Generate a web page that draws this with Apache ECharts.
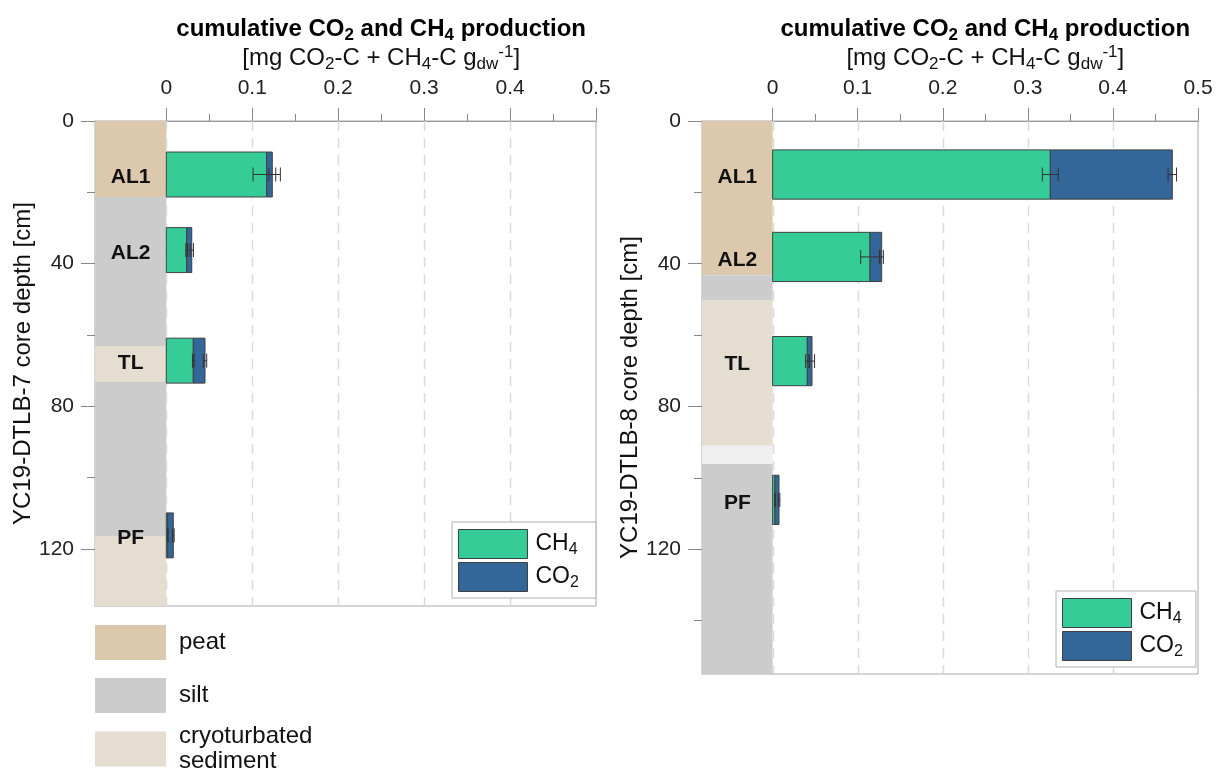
<!DOCTYPE html>
<html><head><meta charset="utf-8">
<script src="https://cdn.jsdelivr.net/npm/echarts@6/dist/echarts.min.js"></script>
<style>html,body{margin:0;padding:0;background:#fff}#c{width:1220px;height:769px}</style>
</head><body><div id="c"></div>
<script>
// ---------------- data ----------------
const LAYERS = ['AL1', 'AL2', 'TL', 'PF'];
// core YC19-DTLB-7 (left)
const C7_DEPTH   = [15.0, 36.2, 67.2, 116.2];
const C7_CH4     = [0.1168, 0.0237, 0.0314, 0.0016];
const C7_CO2     = [0.0065, 0.0059, 0.0136, 0.0065];
const C7_CH4_ERR = [0.0159, 0.0010, 0.0010, 0.0005];
const C7_TOT_ERR = [0.0040, 0.0020, 0.0020, 0.0010];
const C7_LITH_TOP    = [0, 21.3, 63.1, 73.2, 116.4];
const C7_LITH_BOTTOM = [21.3, 63.1, 73.2, 116.4, 136];
const C7_LITH_TYPE   = ['peat', 'silt', 'cryoturbated sediment', 'silt', 'cryoturbated sediment'];
// core YC19-DTLB-8 (right)
const C8_DEPTH   = [15.0, 38.1, 67.3, 106.2];
const C8_CH4     = [0.3264, 0.1145, 0.0408, 0.0028];
const C8_CO2     = [0.1434, 0.0137, 0.0055, 0.0047];
const C8_CH4_ERR = [0.0094, 0.0110, 0.0020, 0.0005];
const C8_TOT_ERR = [0.0050, 0.0020, 0.0030, 0.0010];
const C8_LITH_TOP    = [0, 43.2, 50.2, 91.0, 96.1];
const C8_LITH_BOTTOM = [43.2, 50.2, 91.0, 96.1, 155];
const C8_LITH_TYPE   = ['peat', 'silt', 'cryoturbated sediment', 'no sample', 'silt'];

const X_TICKS = [0, 0.1, 0.2, 0.3, 0.4, 0.5];
const X_MINOR_TICKS = [0.05, 0.15, 0.25, 0.35, 0.45];
const X_GRID = [0, 0.1, 0.2, 0.3, 0.4];
const Y_TICKS = [0, 40, 80, 120];
const Y_MINOR_TICKS = [20, 60, 100, 140];
const X_MIN = -0.083, X_MAX = 0.5;
const C7_DEPTH_MAX = 136, C8_DEPTH_MAX = 155;
const LITH_NAMES = ['peat', 'silt', 'cryoturbated sediment', 'no sample'];

// ---------------- styles ----------------
const FONT = "'Liberation Sans', Arial, Helvetica, sans-serif";
const LITH_COLORS = { 'peat': '#dcc8ac', 'silt': '#cccccc', 'cryoturbated sediment': '#e5ddd0', 'no sample': '#f0f0f0' };
const CH4_COLOR = '#36cc98';
const CO2_COLOR = '#336699';
const EDGE = '#404040';

const chart = echarts.init(document.getElementById('c'), null, { renderer: 'canvas' });

function lithSeries(name, gi, tops, bottoms, types) {
  const data = [];
  for (let i = 0; i < tops.length; i++) if (types[i] === name) data.push([tops[i], bottoms[i]]);
  return {
    type: 'custom', name: name, xAxisIndex: gi * 2, yAxisIndex: gi * 2, z: 1, silent: true,
    itemStyle: { color: LITH_COLORS[name] },
    encode: { x: -1, y: [0, 1] },
    data: data,
    renderItem: function (params, api) {
      const p0 = api.coord([X_MIN, api.value(0)]);
      const p1 = api.coord([0, api.value(1)]);
      return { type: 'rect', shape: { x: p0[0], y: p0[1], width: p1[0] - p0[0], height: p1[1] - p0[1] },
        style: { fill: LITH_COLORS[name] } };
    }
  };
}

function gridLineSeries(gi) {
  return {
    type: 'custom', name: 'gridlines', xAxisIndex: gi * 2, yAxisIndex: gi * 2, z: 2, silent: true,
    encode: { x: 0, y: -1 },
    data: X_GRID.map(v => [v]),
    renderItem: function (params, api) {
      const x = Math.round(api.coord([api.value(0), 0])[0]) + 0.5;
      const cs = params.coordSys;
      return { type: 'line', shape: { x1: x, y1: cs.y, x2: x, y2: cs.y + cs.height },
        style: { stroke: '#dadada', lineWidth: 1.5, lineDash: [10, 7] } };
    }
  };
}

function barSeries(name, color, gi, depth, start, end, h) {
  return {
    type: 'custom', name: name, xAxisIndex: gi * 2, yAxisIndex: gi * 2, z: 3, silent: true,
    itemStyle: { color: color, borderColor: EDGE, borderWidth: 1 },
    encode: { x: [0, 1], y: 2 },
    data: depth.map((d, i) => [start[i], end[i], d]),
    renderItem: function (params, api) {
      const p0 = api.coord([api.value(0), api.value(2) - h / 2]);
      const p1 = api.coord([api.value(1), api.value(2) + h / 2]);
      return { type: 'rect', shape: { x: p0[0], y: p0[1], width: p1[0] - p0[0], height: p1[1] - p0[1] },
        style: { fill: color, stroke: EDGE, lineWidth: 1 } };
    }
  };
}

function errSeries(gi, depth, centers, errs) {
  return {
    type: 'custom', name: 'err', xAxisIndex: gi * 2, yAxisIndex: gi * 2, z: 4, silent: true,
    encode: { x: 0, y: 2 },
    data: depth.map((d, i) => [centers[i], errs[i], d]),
    renderItem: function (params, api) {
      const c = api.value(0), e = api.value(1), d = api.value(2);
      const pl = api.coord([c - e, d]), pr = api.coord([c + e, d]);
      const cap = 7, st = { stroke: '#333', lineWidth: 1 };
      return { type: 'group', children: [
        { type: 'line', shape: { x1: pl[0], y1: pl[1], x2: pr[0], y2: pr[1] }, style: st },
        { type: 'line', shape: { x1: pl[0], y1: pl[1] - cap, x2: pl[0], y2: pl[1] + cap }, style: st },
        { type: 'line', shape: { x1: pr[0], y1: pr[1] - cap, x2: pr[0], y2: pr[1] + cap }, style: st }
      ] };
    }
  };
}

function labelSeries(gi, depth) {
  return {
    type: 'custom', name: 'layerlabels', xAxisIndex: gi * 2, yAxisIndex: gi * 2, z: 5, silent: true,
    encode: { x: -1, y: 0 },
    data: depth.map((d, i) => [d, i]),
    renderItem: function (params, api) {
      const p = api.coord([X_MIN / 2, api.value(0)]);
      return { type: 'text', x: p[0], y: p[1] + 3,
        style: { text: LAYERS[api.value(1)], align: 'center', verticalAlign: 'middle',
          font: 'bold 21px ' + FONT, fill: '#111' } };
    }
  };
}

function sum(a, b) { return a.map((v, i) => v + b[i]); }
function zeros(a) { return a.map(() => 0); }

const C7_TOT = sum(C7_CH4, C7_CO2);
const C8_TOT = sum(C8_CH4, C8_CO2);
const BAR_H7 = 12.6, BAR_H8 = 13.8;

function xAxes(gi) {
  return [
    { gridIndex: gi, type: 'value', position: 'top', min: X_MIN, max: X_MAX,
      axisLine: { onZero: false, lineStyle: { color: '#999', width: 1 } },
      axisTick: { customValues: X_TICKS, length: 13, lineStyle: { color: '#888' } },
      axisLabel: { customValues: X_TICKS, margin: 22, fontSize: 21, fontFamily: FONT, color: '#222',
        formatter: v => String(Math.round(v * 10) / 10) },
      splitLine: { show: false } },
    { gridIndex: gi, type: 'value', position: 'top', min: X_MIN, max: X_MAX,
      axisLine: { show: false, onZero: false },
      axisTick: { customValues: X_MINOR_TICKS, length: 7, lineStyle: { color: '#888' } },
      axisLabel: { show: false }, splitLine: { show: false } }
  ];
}
function yAxes(gi, max, name, gap) {
  return [
    { gridIndex: gi, type: 'value', inverse: true, min: 0, max: max, position: 'left',
      name: name, nameLocation: 'middle', nameGap: gap,
      nameTextStyle: { fontSize: 24, fontFamily: FONT, color: '#111' },
      axisLine: { onZero: false, lineStyle: { color: '#999', width: 1 } },
      axisTick: { customValues: Y_TICKS.filter(v => v <= max), length: 14, lineStyle: { color: '#888' } },
      axisLabel: { customValues: Y_TICKS.filter(v => v <= max), margin: 21, fontSize: 21, fontFamily: FONT, color: '#222' },
      splitLine: { show: false } },
    { gridIndex: gi, type: 'value', inverse: true, min: 0, max: max, position: 'left',
      axisLine: { show: false, onZero: false },
      axisTick: { customValues: Y_MINOR_TICKS.filter(v => v <= max), length: 8, lineStyle: { color: '#888' } },
      axisLabel: { show: false }, splitLine: { show: false } }
  ];
}

const gasRich = {
  n: { fontSize: 23, fontFamily: FONT, color: '#111', lineHeight: 28 },
  s: { fontSize: 16, fontFamily: FONT, color: '#111', lineHeight: 15, verticalAlign: 'bottom' }
};
function gasLegend(left, top, padRight) {
  return {
    data: ['CH4', 'CO2'], left: left, top: top, orient: 'vertical', icon: 'rect',
    itemWidth: 69, itemHeight: 29, itemGap: 3, padding: [7, padRight, 6, 6],
    borderColor: '#b0b0b0', borderWidth: 1, backgroundColor: '#fff', selectedMode: false,
    itemStyle: { borderColor: EDGE, borderWidth: 1 },
    formatter: n => n === 'CH4' ? '{n|CH}{s|4}' : '{n|CO}{s|2}',
    textStyle: { rich: gasRich, padding: [0, 0, 0, 3] }
  };
}
const lithLegendText = { fontSize: 24, fontFamily: FONT, color: '#111', lineHeight: 25, padding: [0, 0, 0, 8] };

const series = [];
['peat', 'silt', 'cryoturbated sediment'].forEach(n => series.push(lithSeries(n, 0, C7_LITH_TOP, C7_LITH_BOTTOM, C7_LITH_TYPE)));
LITH_NAMES.forEach(n => series.push(lithSeries(n, 1, C8_LITH_TOP, C8_LITH_BOTTOM, C8_LITH_TYPE)));
series.push(gridLineSeries(0), gridLineSeries(1));
series.push(barSeries('CH4', CH4_COLOR, 0, C7_DEPTH, zeros(C7_CH4), C7_CH4, BAR_H7));
series.push(barSeries('CO2', CO2_COLOR, 0, C7_DEPTH, C7_CH4, C7_TOT, BAR_H7));
series.push(barSeries('CH4', CH4_COLOR, 1, C8_DEPTH, zeros(C8_CH4), C8_CH4, BAR_H8));
series.push(barSeries('CO2', CO2_COLOR, 1, C8_DEPTH, C8_CH4, C8_TOT, BAR_H8));
series.push(errSeries(0, C7_DEPTH, C7_CH4, C7_CH4_ERR), errSeries(0, C7_DEPTH, C7_TOT, C7_TOT_ERR));
series.push(errSeries(1, C8_DEPTH, C8_CH4, C8_CH4_ERR), errSeries(1, C8_DEPTH, C8_TOT, C8_TOT_ERR));
series.push(labelSeries(0, C7_DEPTH), labelSeries(1, C8_DEPTH));

const option = {
  animation: false,
  backgroundColor: '#fff',
  grid: [
    { left: 95, top: 121, right: 624, bottom: 163, show: true, borderColor: '#aaa', borderWidth: 1, containLabel: false },
    { left: 702, top: 121, right: 22, bottom: 95, show: true, borderColor: '#aaa', borderWidth: 1, containLabel: false }
  ],
  xAxis: xAxes(0).concat(xAxes(1)),
  yAxis: yAxes(0, C7_DEPTH_MAX, 'YC19-DTLB-7 core depth [cm]', 56).concat(yAxes(1, C8_DEPTH_MAX, 'YC19-DTLB-8 core depth [cm]', 56)),
  legend: [
    gasLegend(452, 522, 17),
    gasLegend(1056, 591, 13),
    { data: ['peat', 'silt'], left: 95, top: 625, height: 120, orient: 'vertical', icon: 'rect',
      itemWidth: 71, itemHeight: 35, itemGap: 18, padding: 0, selectedMode: false,
      itemStyle: { borderWidth: 0 }, textStyle: lithLegendText },
    { data: ['cryoturbated sediment'], left: 95, top: 724, height: 60, orient: 'vertical', icon: 'rect',
      itemWidth: 71, itemHeight: 35, padding: 0, selectedMode: false,
      itemStyle: { borderWidth: 0 },
      formatter: () => 'cryoturbated\nsediment', textStyle: lithLegendText }
  ],
  series: series
};
chart.setOption(option);

const titleRich = {
  b: { fontSize: 24, fontWeight: 'bold', fontFamily: FONT, fill: '#000', lineHeight: 30 },
  bs: { fontSize: 17, fontWeight: 'bold', fontFamily: FONT, fill: '#000', lineHeight: 17, verticalAlign: 'bottom' },
  n: { fontSize: 24, fontFamily: FONT, fill: '#111', lineHeight: 29 },
  s: { fontSize: 17, fontFamily: FONT, fill: '#111', lineHeight: 16, verticalAlign: 'bottom' },
  u: { fontSize: 17, fontFamily: FONT, fill: '#111', lineHeight: 16, verticalAlign: 'top' }
};
const T1 = '{b|cumulative CO}{bs|2}{b| and CH}{bs|4}{b| production}';
const T2 = '{n|[mg CO}{s|2}{n|-C + CH}{s|4}{n|-C g}{s|dw}{u|-1}{n|]}';
const graphics = [];
[0, 2].forEach(xi => {
  const cx = chart.convertToPixel({ xAxisIndex: xi }, (0 + X_MAX) / 2);
  graphics.push({ type: 'text', x: cx, y: 29, silent: true,
    style: { text: T1, rich: titleRich, align: 'center', verticalAlign: 'middle' } });
  graphics.push({ type: 'text', x: cx, y: 58, silent: true,
    style: { text: T2, rich: titleRich, align: 'center', verticalAlign: 'middle' } });
});
chart.setOption({ graphic: graphics });
</script></body></html>
